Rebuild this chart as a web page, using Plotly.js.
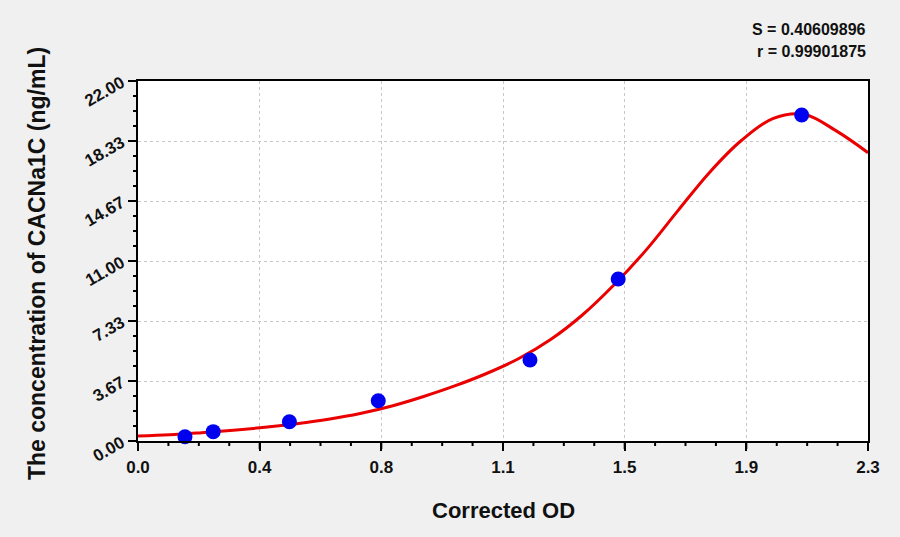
<!DOCTYPE html>
<html>
<head>
<meta charset="utf-8">
<script src="https://cdn.plot.ly/plotly-3.0.1.min.js"></script>
<style>
  html, body { margin: 0; padding: 0; background: #f0f0f0; }
  #graph { width: 900px; height: 537px; }
</style>
</head>
<body>
<div id="graph"></div>
<script>
/* ---------------- data ---------------- */

// standard points (corrected OD, concentration)
var pointOD = [0.148, 0.237, 0.477, 0.757, 1.235, 1.513, 2.091];
var pointConc = [0.26, 0.57, 1.18, 2.46, 4.95, 9.90, 19.92];

// fitted curve
var curveOD = [0, 0.1, 0.2, 0.3, 0.4, 0.5, 0.6, 0.7, 0.8, 0.9, 1.0, 1.1, 1.2,
               1.3, 1.4, 1.5, 1.6, 1.7, 1.8, 1.9, 2.0, 2.1, 2.2, 2.3];
var curveConc = [0.30, 0.38, 0.51, 0.66, 0.84, 1.06, 1.33, 1.68, 2.14, 2.72, 3.38, 4.14, 5.04,
                 6.20, 7.70, 9.55, 11.65, 14.05, 16.40, 18.35, 19.70, 19.95, 18.95, 17.62];

// axis tick labels
var xTickText = ['0.0', '0.4', '0.8', '1.1', '1.5', '1.9', '2.3'];
var yTickText = ['0.00', '3.67', '7.33', '11.00', '14.67', '18.33', '22.00'];
var xMax = 2.3;
var yMax = 22;
var minorPerMajor = 4;

var statS = 'S = 0.40609896';
var statR = 'r = 0.99901875';

/* ---------------- layout helpers ---------------- */

var FONT = 'Liberation Sans, Arial, Helvetica, sans-serif';
var W = 900, H = 537;
var margin = { l: 138, r: 32, t: 81, b: 96 };
var plotW = W - margin.l - margin.r;
var plotH = H - margin.t - margin.b;

/**
 * Evenly spaced tick positions from 0 to max (n positions).
 */
function tickPositions(max, n) {
    var vals = [];
    for (var i = 0; i < n; i++) {
        vals.push(max * i / (n - 1));
    }
    return vals;
}

/**
 * Outside tick marks (major and minor) drawn as paper-referenced shapes,
 * since the axis' own ticks did not show up in the render.
 */
function tickShapes(axis, max, nMajor) {
    var vals = tickPositions(max, (nMajor - 1) * minorPerMajor + 1);
    var shapes = [];
    vals.forEach(function(v, i) {
        var len = (i % minorPerMajor === 0) ? 8 : 5;
        var s = { type: 'line', layer: 'above', xref: 'paper', yref: 'paper',
                  line: { color: '#000', width: 2 } };
        if (axis === 'x') {
            var px = v / max;
            Object.assign(s, { x0: px, x1: px, y0: 0, y1: -len / plotH });
        } else {
            var py = v / max;
            Object.assign(s, { y0: py, y1: py, x0: 0, x1: -len / plotW });
        }
        shapes.push(s);
    });
    return shapes;
}

var curveTrace = {
    x: curveOD,
    y: curveConc,
    mode: 'lines',
    line: { color: 'rgb(235, 0, 0)', width: 3, shape: 'spline', smoothing: 1 },
    showlegend: false,
    hoverinfo: 'skip'
};

var pointTrace = {
    x: pointOD,
    y: pointConc,
    mode: 'markers',
    marker: { color: 'rgb(0, 0, 240)', size: 15, line: { width: 0 } },
    cliponaxis: false,
    showlegend: false
};

var axisCommon = {
    showline: true,
    linecolor: '#000',
    linewidth: 2,
    mirror: true,
    ticks: 'outside',
    ticklen: 8,
    tickwidth: 2,
    tickcolor: '#000',
    showgrid: true,
    gridcolor: '#c8c8c8',
    gridwidth: 1,
    griddash: 'dot',
    zeroline: false,
    tickfont: { family: FONT, size: 17, color: '#111', weight: 'bold' },
    tickmode: 'array',
    fixedrange: true
};

var layout = {
    width: W,
    height: H,
    paper_bgcolor: '#f0f0f0',
    plot_bgcolor: '#ffffff',
    margin: margin,
    showlegend: false,
    xaxis: Object.assign({}, axisCommon, {
        range: [0, xMax],
        tickvals: tickPositions(xMax, xTickText.length),
        ticktext: xTickText,
        ticklabelstandoff: 2
    }),
    yaxis: Object.assign({}, axisCommon, {
        range: [0, yMax],
        tickvals: tickPositions(yMax, yTickText.length),
        ticktext: yTickText,
        tickangle: -30,
        ticklabelstandoff: 3
    }),
    shapes: tickShapes('x', xMax, xTickText.length)
        .concat(tickShapes('y', yMax, yTickText.length)),
    annotations: [
        {
            text: statS, xref: 'paper', yref: 'paper', x: 1, y: 1.142,
            xanchor: 'right', yanchor: 'middle', showarrow: false,
            font: { family: FONT, size: 16, color: '#111', weight: 'bold' }
        },
        {
            text: statR, xref: 'paper', yref: 'paper', x: 1, y: 1.081,
            xanchor: 'right', yanchor: 'middle', showarrow: false,
            font: { family: FONT, size: 16, color: '#111', weight: 'bold' }
        },
        {
            text: 'Corrected OD', xref: 'paper', yref: 'paper', x: 0.5, y: -0.192,
            xanchor: 'center', yanchor: 'middle', showarrow: false,
            font: { family: FONT, size: 22, color: '#111', weight: 'bold' }
        },
        {
            text: 'The concentration of CACNa1C (ng/mL)', xref: 'paper', yref: 'paper',
            x: -0.139, y: 0.493, textangle: -90,
            xanchor: 'center', yanchor: 'middle', showarrow: false,
            font: { family: FONT, size: 23, color: '#111', weight: 'bold' }
        }
    ]
};

var graph = document.getElementById('graph');
Plotly.newPlot(graph, [curveTrace, pointTrace], layout, { staticPlot: true });
</script>
</body>
</html>
